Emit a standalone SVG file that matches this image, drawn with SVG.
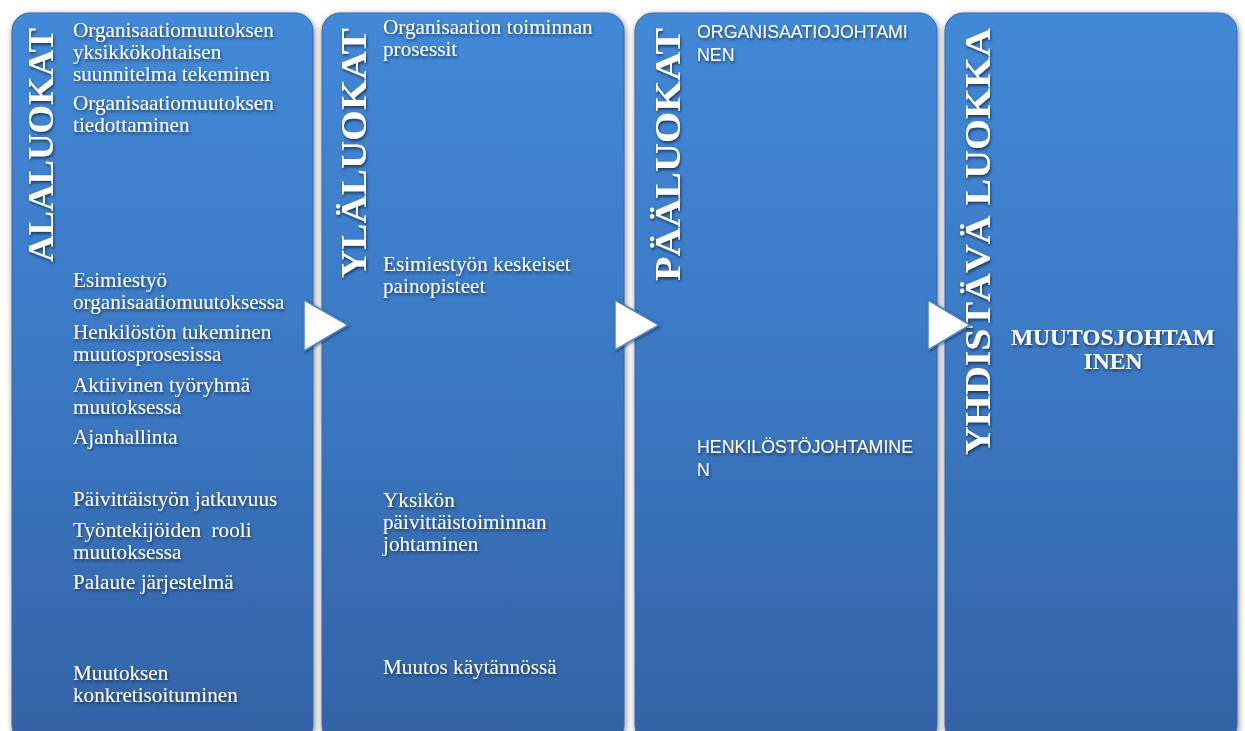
<svg xmlns="http://www.w3.org/2000/svg" width="1245" height="731" viewBox="0 0 1245 731">
<defs>
<linearGradient id="pg" x1="0" y1="0" x2="0" y2="1">
<stop offset="0" stop-color="#4389d7"/>
<stop offset="0.5" stop-color="#3b78c4"/>
<stop offset="1" stop-color="#3463a5"/>
</linearGradient>
<filter id="ps" x="-10%" y="-5%" width="120%" height="110%">
<feGaussianBlur in="SourceAlpha" stdDeviation="3"/>
<feOffset dx="1" dy="2"/>
<feComponentTransfer><feFuncA type="linear" slope="0.5"/></feComponentTransfer>
<feMerge><feMergeNode/><feMergeNode in="SourceGraphic"/></feMerge>
</filter>
<filter id="ts" x="-10%" y="-30%" width="120%" height="160%">
<feGaussianBlur in="SourceAlpha" stdDeviation="1.5"/>
<feOffset dx="1" dy="2"/>
<feComponentTransfer><feFuncA type="linear" slope="0.55"/></feComponentTransfer>
<feMerge><feMergeNode/><feMergeNode in="SourceGraphic"/></feMerge>
</filter>
<filter id="as" x="-30%" y="-30%" width="160%" height="160%">
<feGaussianBlur in="SourceAlpha" stdDeviation="1.5"/>
<feOffset dx="1" dy="1"/>
<feComponentTransfer><feFuncA type="linear" slope="0.5"/></feComponentTransfer>
<feMerge><feMergeNode/><feMergeNode in="SourceGraphic"/></feMerge>
</filter>
</defs>
<style>
.panel{fill:url(#pg);stroke:#3766a8;stroke-width:1}
.title{font-family:"Liberation Serif","Times New Roman",serif;font-weight:bold;font-size:36px;fill:#fff}
.t{font-family:"Liberation Serif","Times New Roman",serif;font-size:21.2px;fill:#fff}
.s{font-family:"Liberation Sans",Arial,sans-serif;font-size:17.8px;fill:#fff}
.b{font-family:"Liberation Serif","Times New Roman",serif;font-weight:bold;font-size:23.5px;fill:#fff}
.arrow{fill:#fff;stroke:#4a80c6;stroke-width:1.5;stroke-linejoin:miter}
</style>
<rect width="1245" height="731" fill="#fff"/>

<g id="panel-alaluokat">
<rect class="panel" x="12" y="13" width="301" height="730" rx="18" filter="url(#ps)"/>
<g filter="url(#ts)">
<text class="title" transform="translate(53,262) rotate(-90)" textLength="234" lengthAdjust="spacingAndGlyphs">ALALUOKAT</text>
<text class="t" x="73" y="37">Organisaatiomuutoksen</text>
<text class="t" x="73" y="59">yksikkökohtaisen</text>
<text class="t" x="73" y="81">suunnitelma tekeminen</text>
<text class="t" x="73" y="110">Organisaatiomuutoksen</text>
<text class="t" x="73" y="132">tiedottaminen</text>
<text class="t" x="73" y="287">Esimiestyö</text>
<text class="t" x="73" y="309">organisaatiomuutoksessa</text>
<text class="t" x="73" y="339">Henkilöstön tukeminen</text>
<text class="t" x="73" y="361">muutosprosesissa</text>
<text class="t" x="73" y="392">Aktiivinen työryhmä</text>
<text class="t" x="73" y="414">muutoksessa</text>
<text class="t" x="73" y="444">Ajanhallinta</text>
<text class="t" x="73" y="506">Päivittäistyön jatkuvuus</text>
<text class="t" x="73" y="537" xml:space="preserve">Työntekijöiden  rooli</text>
<text class="t" x="73" y="559">muutoksessa</text>
<text class="t" x="73" y="589">Palaute järjestelmä</text>
<text class="t" x="73" y="680">Muutoksen</text>
<text class="t" x="73" y="702">konkretisoituminen</text>
</g>
</g>

<g id="panel-ylaluokat">
<rect class="panel" x="322" y="13" width="302" height="730" rx="18" filter="url(#ps)"/>
<g filter="url(#ts)">
<text class="title" transform="translate(366,278) rotate(-90)" textLength="250" lengthAdjust="spacingAndGlyphs">YLÄLUOKAT</text>
<text class="t" x="383" y="34">Organisaation toiminnan</text>
<text class="t" x="383" y="56">prosessit</text>
<text class="t" x="383" y="271">Esimiestyön keskeiset</text>
<text class="t" x="383" y="293">painopisteet</text>
<text class="t" x="383" y="507">Yksikön</text>
<text class="t" x="383" y="529">päivittäistoiminnan</text>
<text class="t" x="383" y="551">johtaminen</text>
<text class="t" x="383" y="674">Muutos käytännössä</text>
</g>
</g>

<g id="panel-paaluokat">
<rect class="panel" x="635" y="13" width="302" height="730" rx="18" filter="url(#ps)"/>
<g filter="url(#ts)">
<text class="title" transform="translate(680,281) rotate(-90)" textLength="253" lengthAdjust="spacingAndGlyphs">PÄÄLUOKAT</text>
<text class="s" x="697" y="38">ORGANISAATIOJOHTAMI</text>
<text class="s" x="697" y="61">NEN</text>
<text class="s" x="697" y="453">HENKILÖSTÖJOHTAMINE</text>
<text class="s" x="697" y="476">N</text>
</g>
</g>

<g id="panel-yhdistava-luokka">
<rect class="panel" x="945" y="13" width="292" height="730" rx="18" filter="url(#ps)"/>
<g filter="url(#ts)">
<text class="title" transform="translate(990,455) rotate(-90)" textLength="427" lengthAdjust="spacingAndGlyphs">YHDISTÄVÄ LUOKKA</text>
<text class="b" x="1113" y="345" text-anchor="middle">MUUTOSJOHTAM</text>
<text class="b" x="1113" y="369" text-anchor="middle">INEN</text>
</g>
</g>

<g id="connectors">
<polygon class="arrow" points="304,300 348,325 304,351" filter="url(#as)"/>
<polygon class="arrow" points="615,300 659,325 615,350" filter="url(#as)"/>
<polygon class="arrow" points="928,300 970,325 928,350" filter="url(#as)"/>
</g>
</svg>
